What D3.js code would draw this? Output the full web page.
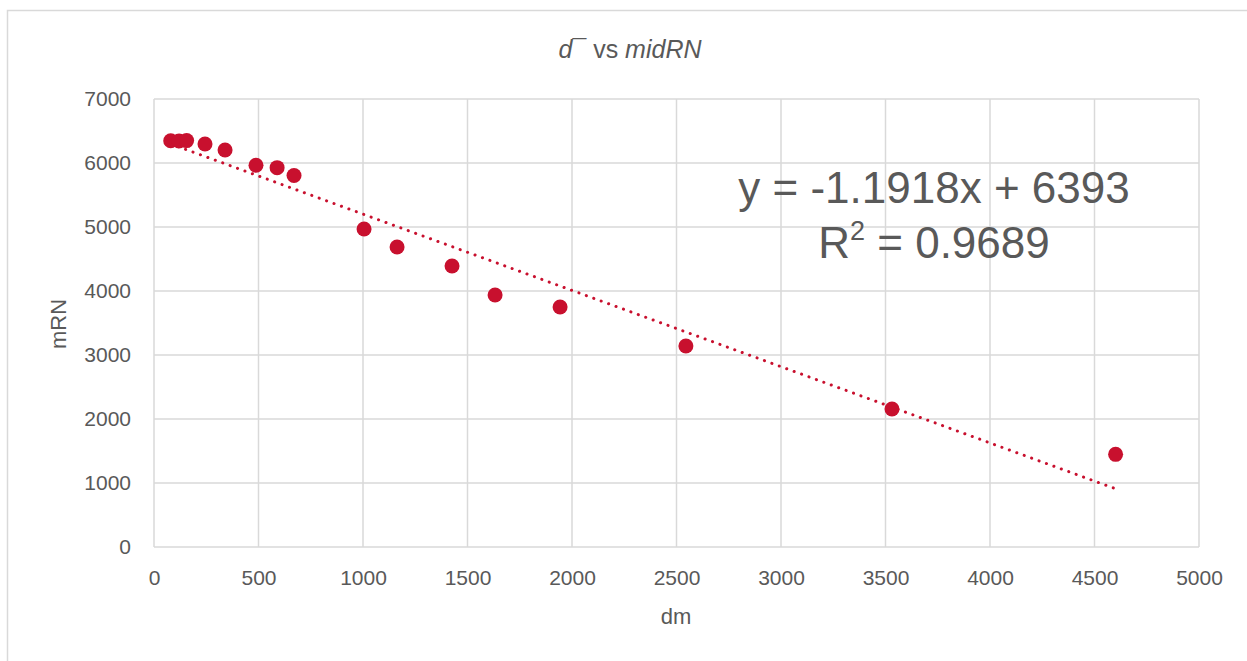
<!DOCTYPE html>
<html>
<head>
<meta charset="utf-8">
<script src="https://cdn.jsdelivr.net/npm/d3@7"></script>
<style>
  body { margin: 0; background: #fff; }
  text { font-family: "Liberation Sans", Arial, sans-serif; fill: #595959; }
</style>
</head>
<body>
<div id="chart"></div>
<script>
// values
var dm    = [80, 120, 156, 244, 340, 488, 589, 670, 1005, 1163, 1426, 1632, 1943, 2545, 3531, 4601]
var mRN   = [6348, 6345, 6350, 6297, 6203, 5964, 5927, 5805, 4969, 4688, 4391, 3938, 3750, 3141, 2156, 1448]
var xTicks = [0, 500, 1000, 1500, 2000, 2500, 3000, 3500, 4000, 4500, 5000]
var yTicks = [0, 1000, 2000, 3000, 4000, 5000, 6000, 7000]
var slope = -1.1918, intercept = 6393

var W = 1247, H = 661
var margin = { top: 99, right: 48, bottom: 114, left: 154 },
    width = W - margin.left - margin.right,
    height = H - margin.top - margin.bottom

var svg = d3.select("#chart").append("svg")
  .attr("width", W)
  .attr("height", H)

// outer chart frame
svg.append("rect")
  .attr("x", 7.5).attr("y", 10.5)
  .attr("width", W + 10).attr("height", H + 10)
  .attr("fill", "none")
  .attr("stroke", "#d9d9d9")
  .attr("stroke-width", 1.5)

var g = svg.append("g")
  .attr("transform", `translate(${margin.left},${margin.top})`)

var x = d3.scaleLinear().domain([0, 5000]).range([0, width])
var y = d3.scaleLinear().domain([0, 7000]).range([height, 0])

// grid
g.append("g").selectAll("line").data(xTicks)
  .enter().append("line")
  .attr("x1", d => x(d)).attr("x2", d => x(d))
  .attr("y1", 0).attr("y2", height)
  .attr("stroke", "#d9d9d9").attr("stroke-width", 1.5)

g.append("g").selectAll("line").data(yTicks)
  .enter().append("line")
  .attr("x1", 0).attr("x2", width)
  .attr("y1", d => y(d)).attr("y2", d => y(d))
  .attr("stroke", "#d9d9d9").attr("stroke-width", 1.5)

// axes (labels only)
var xAxis = g.append("g")
  .attr("transform", `translate(0,${height})`)
  .call(d3.axisBottom(x).tickValues(xTicks).tickFormat(d3.format("d")).tickSize(0).tickPadding(23))
var yAxis = g.append("g")
  .call(d3.axisLeft(y).tickValues(yTicks).tickFormat(d3.format("d")).tickSize(0).tickPadding(23))
xAxis.select(".domain").remove()
yAxis.select(".domain").remove()
g.selectAll(".tick text")
  .style("font-size", "21px")
  .style("font-family", "'Liberation Sans', Arial, sans-serif")
  .attr("fill", "#595959")

// trendline
var xs = d3.extent(dm)
g.append("line")
  .attr("x1", x(xs[0])).attr("y1", y(slope * xs[0] + intercept))
  .attr("x2", x(xs[1])).attr("y2", y(slope * xs[1] + intercept))
  .attr("stroke", "#c8102e")
  .attr("stroke-width", 3)
  .attr("stroke-linecap", "round")
  .attr("stroke-dasharray", "0.1 7.8")

// points
g.selectAll("circle").data(dm)
  .enter().append("circle")
  .attr("cx", (d, i) => x(d))
  .attr("cy", (d, i) => y(mRN[i]))
  .attr("r", 7.5)
  .attr("fill", "#c8102e")

// equation label
var eqX = x(3732)
g.append("text")
  .attr("x", eqX)
  .attr("y", 104)
  .attr("text-anchor", "middle")
  .style("font-size", "44px")
  .text("y = -1.1918x + 6393")

var r2 = g.append("text")
  .attr("x", eqX)
  .attr("y", 159)
  .attr("text-anchor", "middle")
  .style("font-size", "44px")
r2.append("tspan").text("R")
r2.append("tspan").attr("dy", -18).style("font-size", "27px").text("2")
r2.append("tspan").attr("dy", 18).text(" = 0.9689")

// title
var title = svg.append("text")
  .attr("x", 630)
  .attr("y", 58)
  .attr("text-anchor", "middle")
  .style("font-size", "25px")
  .style("font-style", "italic")
title.append("tspan").text("d")
title.append("tspan").style("font-style", "normal").text("\u00AF vs ")
title.append("tspan").text("midRN")

// axis titles
svg.append("text")
  .attr("x", 676)
  .attr("y", 624)
  .attr("text-anchor", "middle")
  .style("font-size", "22px")
  .text("dm")

svg.append("text")
  .attr("transform", "translate(66,324) rotate(-90)")
  .attr("text-anchor", "middle")
  .style("font-size", "22px")
  .text("mRN")
</script>
</body>
</html>
